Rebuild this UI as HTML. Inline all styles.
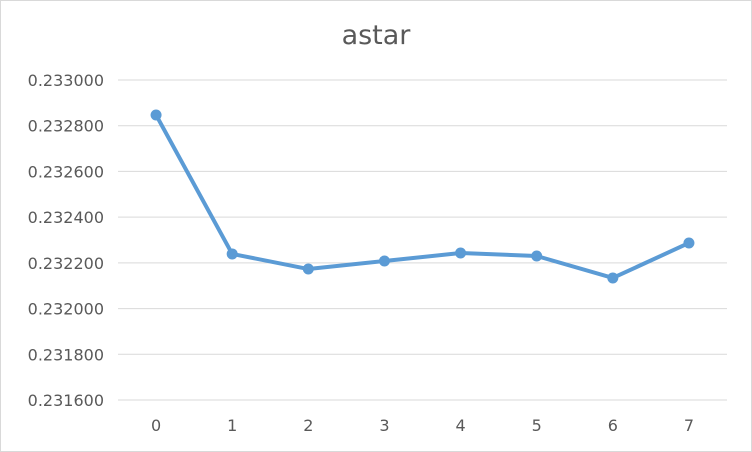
<!DOCTYPE html>
<html><head><meta charset="utf-8">
<style>
html,body{margin:0;padding:0;background:#fff;}
svg{display:block;font-family:"DejaVu Sans","Liberation Sans",sans-serif;}
</style></head>
<body>
<svg id="chart" width="752" height="452">
<rect x="0.5" y="0.5" width="751" height="451" fill="#fff" stroke="#d9d9d9"/>
<text x="376" y="44" text-anchor="middle" font-size="27" fill="#595959">astar</text>
<g id="grid"></g><g id="ylabels"></g><g id="xlabels"></g><g id="series"></g>
</svg>
<script>
const categories = ["0","1","2","3","4","5","6","7"];
const values = [0.232847, 0.232239, 0.232173, 0.232208, 0.232243, 0.232230, 0.232134, 0.232287];
const yTicks = [0.2316, 0.2318, 0.232, 0.2322, 0.2324, 0.2326, 0.2328, 0.233];
const yMin = 0.2316, yMax = 0.233;
const plotL = 118, plotR = 727, plotT = 80, plotB = 400;
const NS = "http://www.w3.org/2000/svg";
function y(v){return plotB - (v - yMin)/(yMax - yMin)*(plotB - plotT);}
function x(i){return plotL + (plotR - plotL)/categories.length*(i+0.5);}
function mk(tag, attrs, parent){const e=document.createElementNS(NS,tag);for(const k in attrs)e.setAttribute(k,attrs[k]);parent.appendChild(e);return e;}
const grid=document.getElementById('grid'), yl=document.getElementById('ylabels'), xl=document.getElementById('xlabels'), s=document.getElementById('series');
yTicks.forEach(t=>{
  const l=mk('line',{x1:plotL,x2:plotR,y1:y(t),y2:y(t),stroke:'#d9d9d9','stroke-width':1},grid);
  
  
  const tx=mk('text',{x:104,y:y(t)+6,'text-anchor':'end','font-size':16,fill:'#595959'},yl);
  tx.textContent=t.toFixed(6);
  
  
});
categories.forEach((c,i)=>{
  const tx=mk('text',{x:x(i),y:431,'text-anchor':'middle','font-size':16,fill:'#595959'},xl);
  tx.textContent=c;
  
  
});
const pl=mk('polyline',{points:values.map((v,i)=>x(i)+','+y(v)).join(' '),fill:'none',stroke:'#5b9bd5','stroke-width':4,'stroke-linejoin':'round','stroke-linecap':'round'},s);


values.forEach((v,i)=>{
  const c=mk('circle',{cx:x(i),cy:y(v),r:5.5,fill:'#5b9bd5'},s);
  
  
});
</script>
</body></html>
